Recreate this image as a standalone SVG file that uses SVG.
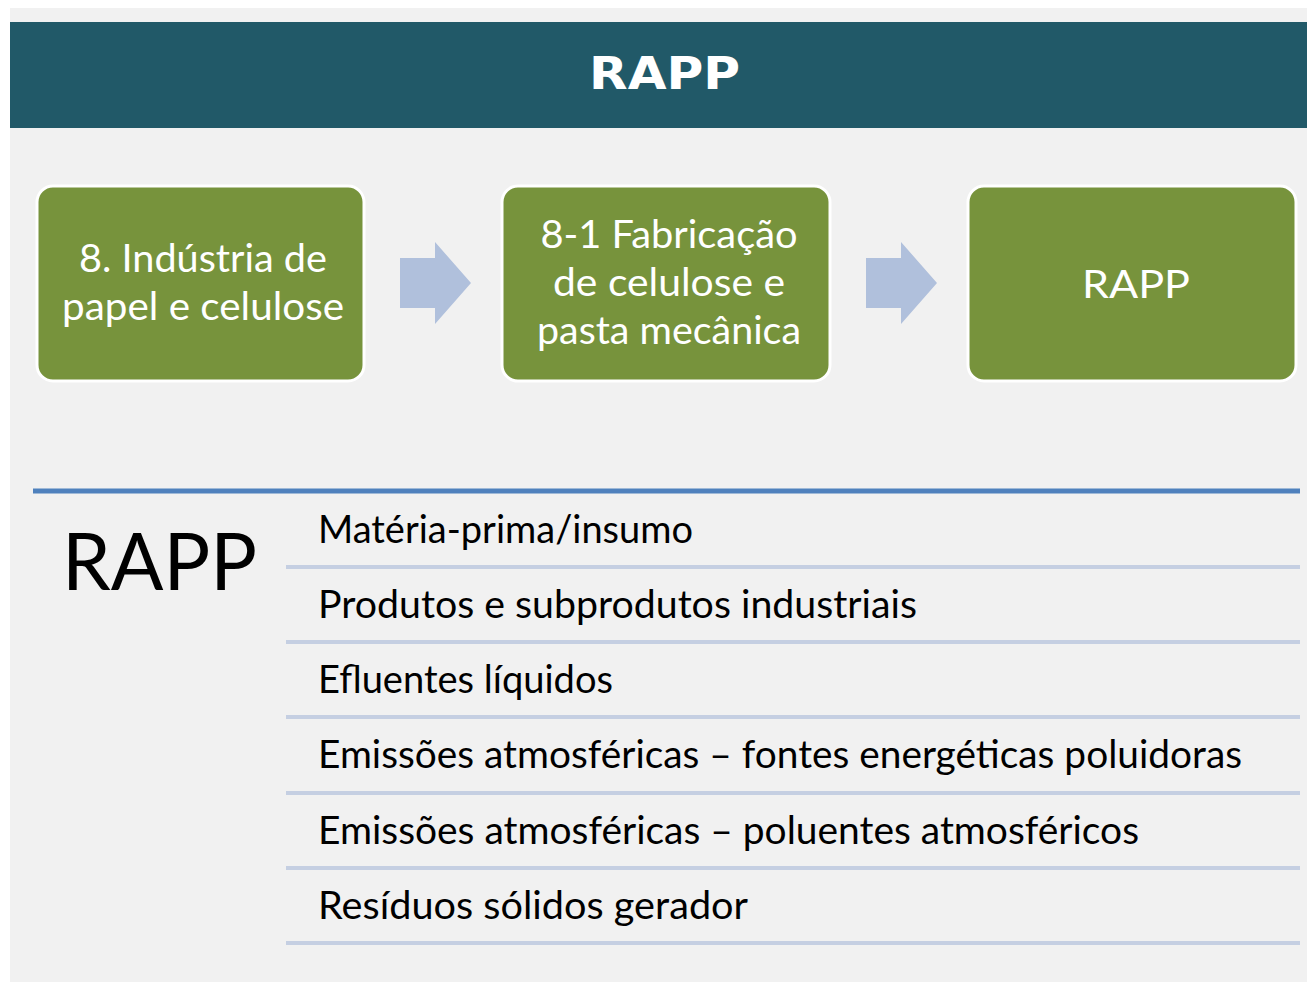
<svg xmlns="http://www.w3.org/2000/svg" width="1307" height="983" viewBox="0 0 1307 983">
  <style>
    .box { fill: #77933c; stroke: #ffffff; stroke-width: 3; }
    .btxt { font-family: Lato, "Open Sans", sans-serif; font-size: 38px; fill: #ffffff; text-anchor: middle; }
    .row { font-family: Lato, "Open Sans", sans-serif; font-size: 38px; fill: #000000; }
    .sep { stroke: #c5cfe2; stroke-width: 4; }
    .arrow { fill: #b0c0dc; }
  </style>
  <rect x="0" y="0" width="1307" height="983" fill="#ffffff"/>
  <rect x="10" y="8" width="1297" height="974" fill="#f1f1f1"/>
  <g id="header">
    <rect x="10" y="22" width="1297" height="106" fill="#215968"/>
    <text x="664.5" y="89" font-family="'DejaVu Sans', Verdana, sans-serif" font-weight="bold" font-size="45" fill="#ffffff" text-anchor="middle" textLength="151" lengthAdjust="spacingAndGlyphs">RAPP</text>
  </g>
  <g id="node1">
    <rect class="box" x="37" y="186" width="327" height="195" rx="16"/>
    <text class="btxt" x="203" y="272" textLength="248" lengthAdjust="spacingAndGlyphs">8. Indústria de</text>
    <text class="btxt" x="203" y="320" textLength="282" lengthAdjust="spacingAndGlyphs">papel e celulose</text>
  </g>
  <g id="node2">
    <rect class="box" x="502" y="186" width="328" height="195" rx="16"/>
    <text class="btxt" x="669" y="248" textLength="257" lengthAdjust="spacingAndGlyphs">8-1 Fabricação</text>
    <text class="btxt" x="669" y="296" textLength="232" lengthAdjust="spacingAndGlyphs">de celulose e</text>
    <text class="btxt" x="669" y="344" textLength="264" lengthAdjust="spacingAndGlyphs">pasta mecânica</text>
  </g>
  <g id="node3">
    <rect class="box" x="968" y="186" width="328" height="195" rx="16"/>
    <text class="btxt" x="1136" y="298" font-size="42" textLength="108" lengthAdjust="spacingAndGlyphs">RAPP</text>
  </g>
  <g id="connectors">
    <polygon class="arrow" points="400,258 435,258 435,242 471,283 435,324 435,308 400,308"/>
    <polygon class="arrow" points="866,258 901,258 901,242 937,283 901,324 901,308 866,308"/>
  </g>
  <g id="list">
    <line x1="33" y1="491" x2="1300" y2="491" stroke="#4f81bd" stroke-width="5"/>
    <text x="62" y="590" font-family="Lato, 'Open Sans', sans-serif" font-size="80" fill="#000000" textLength="195" lengthAdjust="spacingAndGlyphs">RAPP</text>
    <text class="row" x="318" y="543" textLength="375" lengthAdjust="spacingAndGlyphs">Matéria-prima/insumo</text>
    <line class="sep" x1="286" y1="567" x2="1300" y2="567"/>
    <text class="row" x="318" y="618" textLength="599" lengthAdjust="spacingAndGlyphs">Produtos e subprodutos industriais</text>
    <line class="sep" x1="286" y1="642" x2="1300" y2="642"/>
    <text class="row" x="318" y="693" textLength="295" lengthAdjust="spacingAndGlyphs">Efluentes líquidos</text>
    <line class="sep" x1="286" y1="717" x2="1300" y2="717"/>
    <text class="row" x="318" y="768" textLength="924" lengthAdjust="spacingAndGlyphs">Emissões atmosféricas – fontes energéticas poluidoras</text>
    <line class="sep" x1="286" y1="793" x2="1300" y2="793"/>
    <text class="row" x="318" y="844" textLength="821" lengthAdjust="spacingAndGlyphs">Emissões atmosféricas – poluentes atmosféricos</text>
    <line class="sep" x1="286" y1="868" x2="1300" y2="868"/>
    <text class="row" x="318" y="919" textLength="430" lengthAdjust="spacingAndGlyphs">Resíduos sólidos gerador</text>
    <line class="sep" x1="286" y1="943" x2="1300" y2="943"/>
  </g>
</svg>
